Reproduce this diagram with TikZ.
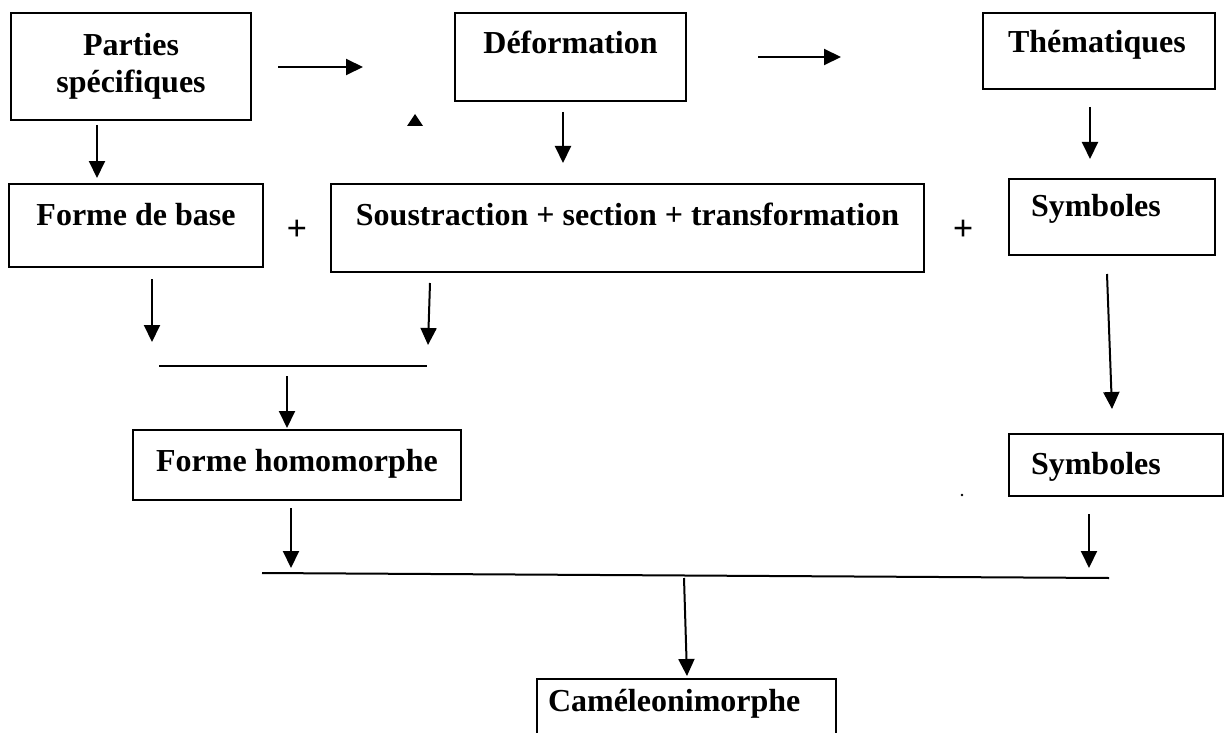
\documentclass[tikz,border=0pt]{standalone}
\usepackage{fontspec}
\setmainfont{Liberation Serif}
\usetikzlibrary{arrows.meta}

\begin{document}
\begin{tikzpicture}[x=0.5pt,y=-0.5pt]

		\tikzstyle{cadre}=[draw,
		line width=1pt,
		inner sep=0pt,
		anchor=north west,
		font=\bfseries\fontsize{16}{18.5}\selectfont
		]
		\tikzstyle{signe}=[inner sep=0pt,
		font=\bfseries\fontsize{18}{20}\selectfont
		]
		\tikzstyle{fleche}=[-{Triangle[length=8.5pt,width=8pt]}, line width=1pt]
		\tikzstyle{trait}=[line width=1pt]

		\useasboundingbox (0,0) rectangle (1226,733);
		\clip (0,0) rectangle (1226,733);

		\coordinate (pps) at (10, 12);
		\coordinate (pdef) at (454, 12);
		\coordinate (pthe) at (982, 12);
		\coordinate (pfb) at (8, 183);
		\coordinate (psst) at (330, 183);
		\coordinate (psym1) at (1008, 178);
		\coordinate (pfh) at (132, 429);
		\coordinate (psym2) at (1008, 433);
		\coordinate (pcam) at (536, 678);

		\node[cadre, align=center, minimum width=120pt, minimum height=53.5pt] (ps) at (pps) {Parties\\spécifiques};
		\node[cadre, minimum width=115.5pt, text height=20.5pt, text depth=23.5pt] (def) at (pdef) {Déformation};
		\node[cadre, align=left, text width=91pt, inner xsep=12.5pt, text height=20pt, text depth=18pt] (the) at (pthe) {Thématiques};
		\node[cadre, minimum width=127pt, text height=20.5pt, text depth=21pt] (fb) at (pfb) {Forme de base};
		\node[cadre, minimum width=296.5pt, text height=20.5pt, text depth=23.5pt] (sst) at (psst) {Soustraction + section + transformation};
		\node[cadre, align=left, text width=81pt, inner xsep=11pt, text height=18.5pt, text depth=19.5pt] (sym1) at (psym1) {Symboles};
		\node[cadre, minimum width=164pt, text height=20.5pt, text depth=14.5pt] (fh) at (pfh) {Forme homomorphe};
		\node[cadre, align=left, text width=85pt, inner xsep=11pt, text height=20pt, text depth=11pt] (sym2) at (psym2) {Symboles};
		\node[cadre, align=left, text width=138.5pt, inner xsep=5.5pt, text height=16pt, text depth=17.5pt] (cam) at (pcam) {Caméleonimorphe};

		\node[signe] (plus1) at (297, 230) {+};
		\node[signe] (plus2) at (963, 230) {+};

		% traits de jonction
		\coordinate (l1g) at (159, 366);
		\coordinate (l1d) at (427, 366);
		\coordinate (l2g) at (262, 573);
		\coordinate (l2d) at (1109, 578);

		% fleches
		\coordinate (f1a) at (278, 67);    \coordinate (f1b) at (363, 67);
		\coordinate (f2a) at (758, 57);    \coordinate (f2b) at (841, 57);
		\coordinate (f3a) at (97, 125);    \coordinate (f3b) at (97, 178);
		\coordinate (f4a) at (563, 112);   \coordinate (f4b) at (563, 163);
		\coordinate (f5a) at (1090, 107);  \coordinate (f5b) at (1090, 159);
		\coordinate (f6a) at (152, 279);   \coordinate (f6b) at (152, 342);
		\coordinate (f7a) at (430, 283);   \coordinate (f7b) at (428, 345);
		\coordinate (f8a) at (287, 376);   \coordinate (f8b) at (287, 428);
		\coordinate (f9a) at (1107, 274);  \coordinate (f9b) at (1112, 409);
		\coordinate (f10a) at (291, 508);  \coordinate (f10b) at (291, 568);
		\coordinate (f11a) at (1089, 514); \coordinate (f11b) at (1089, 568);
		\coordinate (f12a) at (684, 578);  \coordinate (f12b) at (687, 676);

		\draw[fleche] (f1a) -- (f1b);
		\draw[fleche] (f2a) -- (f2b);
		\draw[fleche] (f3a) -- (f3b);
		\draw[fleche] (f4a) -- (f4b);
		\draw[fleche] (f5a) -- (f5b);
		\draw[fleche] (f6a) -- (f6b);
		\draw[fleche] (f7a) -- (f7b);
		\draw[fleche] (f8a) -- (f8b);
		\draw[fleche] (f9a) -- (f9b);
		\draw[fleche] (f10a) -- (f10b);
		\draw[fleche] (f11a) -- (f11b);
		\draw[fleche] (f12a) -- (f12b);

		\draw[trait] (l1g) -- (l1d);
		\draw[trait] (l2g) -- (l2d);

		% petite pointe isolee et point
		\fill (407, 126) -- (423, 126) -- (415, 114) -- cycle;
		\fill (962, 495) circle (0.7pt);

\end{tikzpicture}
\end{document}
